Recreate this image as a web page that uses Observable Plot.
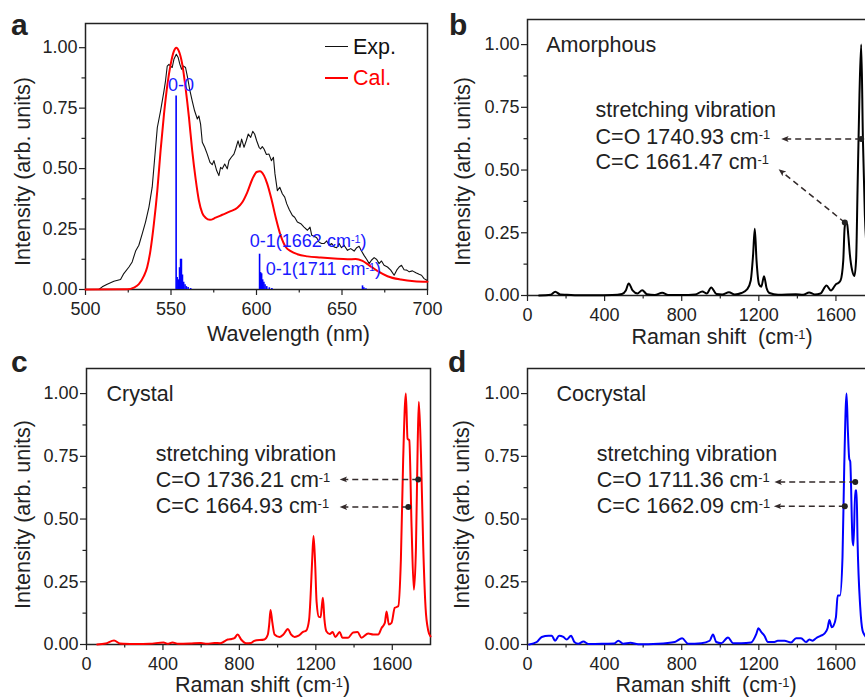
<!DOCTYPE html>
<html><head><meta charset="utf-8">
<script src="https://cdn.jsdelivr.net/npm/d3@7"></script>
<script src="https://cdn.jsdelivr.net/npm/@observablehq/plot@0.6"></script>
<style>
body{margin:0;background:#fff;}
#root{position:relative;width:865px;height:700px;overflow:hidden;background:#fff;font-family:'Liberation Sans',Arial,sans-serif;color:#222;}
.pn{position:absolute;}
.pn svg text{white-space:pre;}
.lbl{position:absolute;font-weight:bold;font-size:30px;line-height:1;}
.leg{position:absolute;font-size:21.5px;line-height:1;white-space:nowrap;}
.legline{position:absolute;height:0;}
</style></head><body><div id="root"></div>
<script>
// ---------- Panel a: PL spectra ----------
const expWl = [507.8,509.8,512.7,516.6,520.5,522.4,525.4,527.3,529.3,531.2,533.2,535.1,537.1,539.0,541.0,542.0,543.9,545.9,546.8,547.8,548.8,549.8,550.7,551.7,553.1,554.2,555.2,556.2,557.2,558.5,559.5,560.9,562.4,563.8,565.4,566.3,567.3,568.3,569.7,571.2,572.8,574.1,575.1,576.7,578.0,579.0,580.0,581.4,582.9,583.9,585.3,586.8,587.8,589.2,590.3,591.3,592.7,594.0,595.2,596.6,597.8,598.9,600.1,601.5,602.4,603.4,604.4,605.8,607.3,608.7,609.9,610.8,612.2,613.6,615.1,616.5,617.7,619.2,621.0,622.3,623.9,625.9,627.8,629.8,631.3,632.3,633.7,635.2,636.6,638.0,639.5,641.1,642.4,644.0,645.4,646.9,648.3,649.7,651.2,653.2,655.1,657.1,658.6,660.0,661.4,662.9,664.5,665.9,667.2,668.8,670.3,671.7,673.1,674.6,676.6,678.5,680.5,682.0,683.4,684.8,686.3,687.9,689.3,691.2,693.2,695.1,696.5,698.0,699.6];
const expI = [0,0.011,0.022,0.034,0.041,0.066,0.093,0.114,0.159,0.183,0.231,0.279,0.341,0.423,0.588,0.670,0.739,0.821,0.863,0.924,0.931,0.924,0.918,0.952,0.973,0.959,0.931,0.911,0.924,0.918,0.883,0.828,0.780,0.739,0.705,0.718,0.684,0.609,0.588,0.560,0.526,0.516,0.533,0.492,0.471,0.505,0.499,0.519,0.499,0.533,0.547,0.560,0.581,0.615,0.588,0.622,0.588,0.615,0.643,0.629,0.654,0.643,0.615,0.588,0.581,0.591,0.581,0.558,0.560,0.533,0.547,0.478,0.409,0.423,0.396,0.382,0.354,0.330,0.306,0.299,0.279,0.272,0.258,0.245,0.258,0.224,0.220,0.214,0.196,0.190,0.190,0.201,0.183,0.190,0.176,0.173,0.190,0.173,0.183,0.162,0.169,0.159,0.173,0.179,0.159,0.141,0.124,0.107,0.121,0.132,0.124,0.107,0.118,0.100,0.093,0.080,0.059,0.080,0.093,0.100,0.082,0.080,0.073,0.077,0.069,0.063,0.059,0.045,0.038];
const calWl = [500,524.4,528.3,531.2,534.1,536.1,538.0,540.0,542.0,543.9,545.9,547.8,549.8,551.7,553.1,554.6,556.6,558.5,560.5,562.4,564.4,566.3,568.3,570.2,572.8,576.1,580.0,584.9,588.8,591.7,594.6,597.6,600.1,602.0,604.4,606.3,608.7,611.2,614.1,617.1,620.0,623.9,629.8,637.6,645.4,653.2,658.0,662.0,665.9,670.7,676.6,684.4,692.2,700];
const calI = [0,0.001,0.008,0.022,0.055,0.093,0.162,0.272,0.409,0.574,0.725,0.842,0.931,0.986,1.0,0.986,0.931,0.835,0.712,0.574,0.457,0.368,0.316,0.297,0.288,0.297,0.309,0.324,0.338,0.361,0.402,0.457,0.486,0.489,0.471,0.437,0.375,0.299,0.224,0.176,0.159,0.146,0.137,0.132,0.128,0.125,0.126,0.118,0.100,0.077,0.055,0.041,0.034,0.032];
const stickWl = [553.0,553.6,554.3,555.0,555.6,556.1,556.7,557.4,558.2,559.0,560.0,561.5,601.8,602.4,603.0,603.6,604.3,605.0,606.0,607.5,609.0,662.0,662.8,664.0];
const stickI = [0.80,0.05,0.04,0.09,0.125,0.125,0.06,0.03,0.02,0.012,0.008,0.004,0.146,0.07,0.065,0.04,0.03,0.02,0.012,0.007,0.004,0.015,0.007,0.003];
const stickLabelText = ["0-0","0-1(1662 cm⁻¹)","0-1(1711 cm⁻¹)"];
const stickLabelWl = [555.8,596.1,605.4];
const stickLabelI = [0.821,0.176,0.059];
const wlTicks = [500,550,600,650,700];
const wlMinor = [525,575,625,675];

// ---------- Panels b-d: Raman ----------
const amoShift = [60,120,144,170,205,260,350,440,490,510,525,545,570,595,620,660,699,730,800,870,907,930,953,980,1010,1045,1075,1110,1140,1158,1170,1179,1188,1201,1213,1227,1240,1255,1300,1392,1430,1461,1490,1520,1551,1574,1600,1612,1624,1638,1645,1650,1658,1664,1672,1684,1696,1705,1712,1722,1731,1740,1750,1760,1775,1800];
const amoI = [0,0.003,0.015,0.004,0.003,0.001,0.001,0.002,0.006,0.02,0.048,0.02,0.008,0.021,0.005,0.002,0.011,0.002,0.002,0.004,0.016,0.008,0.032,0.006,0.004,0.013,0.004,0.01,0.025,0.06,0.16,0.266,0.14,0.045,0.035,0.077,0.03,0.01,0.003,0.005,0.003,0.012,0.004,0.008,0.04,0.02,0.045,0.05,0.06,0.14,0.27,0.29,0.285,0.24,0.165,0.1,0.078,0.15,0.42,0.8,1.0,0.62,0.32,0.18,0.08,0.03];
const cryShift = [56,100,144,175,196,260,330,403,425,450,480,540,599,630,669,700,739,760,774,791,809,835,861,879,931,949,956,963,972,984,1010,1030,1054,1070,1089,1110,1133,1150,1165,1173,1181,1188,1196,1204,1216,1225,1231,1237,1245,1255,1273,1288,1302,1325,1339,1369,1395,1418,1439,1474,1500,1526,1544,1561,1570,1582,1596,1613,1631,1645,1657,1671,1680,1689,1701,1713,1724,1733,1739,1750,1762,1774,1788,1800];
const cryI = [0,0.004,0.016,0.004,0.003,0.002,0.003,0.008,0.003,0.008,0.003,0.004,0.006,0.003,0.006,0.005,0.02,0.022,0.025,0.04,0.02,0.005,0.006,0.015,0.02,0.04,0.08,0.138,0.09,0.04,0.03,0.04,0.062,0.04,0.03,0.035,0.05,0.056,0.1,0.2,0.34,0.432,0.33,0.17,0.11,0.109,0.15,0.186,0.1,0.053,0.042,0.05,0.03,0.05,0.027,0.027,0.048,0.05,0.027,0.044,0.04,0.04,0.066,0.086,0.132,0.08,0.086,0.146,0.152,0.338,0.737,1.0,0.82,0.814,0.468,0.218,0.388,0.8,0.967,0.76,0.388,0.149,0.056,0.032];
const cocShift = [9,48,74,109,126,143,164,186,203,226,243,264,290,316,350,402,450,471,497,534,574,678,764,802,833,902,945,962,979,1005,1040,1066,1109,1160,1186,1198,1212,1229,1247,1281,1298,1333,1367,1393,1419,1445,1462,1479,1497,1522,1540,1557,1566,1578,1588,1600,1609,1621,1634,1643,1655,1662,1669,1674,1686,1691,1700,1707,1712,1726,1738,1750,1770,1800];
const cocI = [0,0.01,0.03,0.035,0.035,0.015,0.035,0.03,0.02,0.035,0.01,0.003,0.012,0.002,0.002,0.003,0.004,0.015,0.003,0.007,0.001,0.003,0.01,0.025,0.003,0.005,0.015,0.04,0.01,0.005,0.028,0.005,0.005,0.008,0.04,0.065,0.05,0.035,0.01,0.01,0.015,0.015,0.008,0.025,0.025,0.01,0.02,0.015,0.025,0.035,0.043,0.066,0.098,0.069,0.076,0.109,0.195,0.195,0.348,0.707,1.0,0.85,0.74,0.73,0.415,0.395,0.614,0.614,0.415,0.149,0.056,0.036,0.02,0.012];
const ramanTicks = [0,400,800,1200,1600];
const ramanMinor = [200,600,1000,1400];
const yTicks = [0,0.25,0.5,0.75,1.0];
const yMinor = [0.125,0.375,0.625,0.875];

const amoLines = ["stretching vibration","C=O 1740.93 cm⁻¹","C=C 1661.47 cm⁻¹"];
const cryLines = ["stretching vibration","C=O 1736.21 cm⁻¹","C=C 1664.93 cm⁻¹"];
const cocLines = ["stretching vibration","C=O 1711.36 cm⁻¹","C=C 1662.09 cm⁻¹"];
const amoLineY = [0.71,0.604,0.504];
const cryLineY = [0.731,0.628,0.524];
const cocLineY = [0.731,0.628,0.524];
const amoArrows = [{x1:1731,y1:0.624,x2:1333,y2:0.624},{x1:1646,y1:0.291,x2:1316,y2:0.495}];
const cryArrows = [{x1:1736,y1:0.658,x2:1342,y2:0.658},{x1:1684,y1:0.548,x2:1342,y2:0.548}];
const cocArrows = [{x1:1700,y1:0.648,x2:1298,y2:0.648},{x1:1646,y1:0.551,x2:1295,y2:0.551}];

const FONT = "'Liberation Sans', Arial, sans-serif";
const INK = "#222";
const yTitle = "Intensity (arb. units)";
const f2 = d3.format(".2f");
const fInt = d3.format("d");

function zip(xs, ys){ return xs.map((x,i)=>({x, y: ys[i]})); }

function commonAxes(xT, xM){
  return [
    Plot.frame({stroke: INK, strokeWidth: 1.5}),
    Plot.axisX({ticks: xT, tickSize: 6, tickPadding: 7, tickFormat: fInt, label: null, strokeWidth: 1.2}),
    Plot.axisX({ticks: xM, tickSize: 3.5, tickFormat: () => "", label: null, strokeWidth: 1.2}),
    Plot.axisY({ticks: yTicks, tickSize: 6, tickPadding: 2, tickFormat: f2, label: null, strokeWidth: 1.2}),
    Plot.axisY({ticks: yMinor, tickSize: 3.5, tickFormat: () => "", label: null, strokeWidth: 1.2})
  ];
}
function titles(xTitle, xdx, xdy, ydx, ydy){
  return [
    Plot.text([yTitle], {frameAnchor: "left", text: d => d, rotate: -90, textAnchor: "middle", lineAnchor: "middle", dx: ydx, dy: ydy, fontSize: 21.5, fill: INK}),
    Plot.text([xTitle], {frameAnchor: "bottom", text: d => d, textAnchor: "middle", lineAnchor: "bottom", dx: xdx, dy: xdy, fontSize: 21.5, fill: INK})
  ];
}
const style = {fontFamily: FONT, fontSize: "18px", background: "transparent", color: INK, overflow: "visible"};

// filled arrowhead marker (falls back to Plot's built-in arrow if unsupported)
function filledArrow(color){
  const m = d3.create("svg:marker")
    .attr("viewBox", "-5 -5 10 10")
    .attr("markerWidth", 5.5).attr("markerHeight", 5.5)
    .attr("orient", "auto")
    .attr("fill", color).attr("stroke", "none");
  m.append("path").attr("d", "M4,0L-5,-3.6L-3,0L-5,3.6Z");
  return m.node();
}
function arrowLinks(data){
  const opts = {x1: "x1", y1: "y1", x2: "x2", y2: "y2", stroke: "#332a2a", strokeWidth: 1.5, strokeDasharray: "6,4"};
  try { return Plot.link(data, {...opts, markerEnd: filledArrow}); }
  catch (e) { return Plot.link(data, {...opts, markerEnd: "arrow"}); }
}

function supify(svg){
  const ns = "http://www.w3.org/2000/svg";
  const nodes = [...svg.querySelectorAll("text, tspan")].filter(n => n.childNodes.length === 1 && n.firstChild.nodeType === 3 && n.textContent.includes("⁻¹"));
  for (const n of nodes){
    const parts = n.textContent.split("⁻¹");
    n.textContent = "";
    parts.forEach((p, i) => {
      if (i > 0){
        const s = document.createElementNS(ns, "tspan");
        s.setAttribute("baseline-shift", "38%");
        s.setAttribute("font-size", "0.6em");
        s.textContent = "-1";
        n.appendChild(s);
      }
      if (p) n.appendChild(document.createTextNode(p));
    });
  }
}

const root = document.getElementById("root");
function place(svg, left, top, w){
  const d = document.createElement("div");
  d.className = "pn";
  d.style.left = left + "px"; d.style.top = top + "px"; d.style.width = w + "px";
  supify(svg);
  d.appendChild(svg);
  root.appendChild(d);
}

// Panel a
const stickData = zip(stickWl, stickI);
const stickLabels = stickLabelText.map((t,i)=>({t, x: stickLabelWl[i], y: stickLabelI[i]}));
const pa = Plot.plot({
  width: 440, height: 345, marginLeft: 85, marginRight: 13, marginTop: 23, marginBottom: 56,
  x: {domain: [500,700]}, y: {domain: [0,1.1]}, style,
  marks: [
    ...commonAxes(wlTicks, wlMinor),
    Plot.line(zip(expWl, expI), {x: "x", y: "y", stroke: "#111", strokeWidth: 1.1}),
    Plot.line(zip(calWl, calI), {x: "x", y: "y", stroke: "#ff0000", strokeWidth: 2, curve: "monotone-x"}),
    Plot.ruleX(stickData, {x: "x", y1: 0, y2: "y", stroke: "#0000ff", strokeWidth: 1.6}),
    Plot.text(stickLabels.slice(0,1), {x: "x", y: "y", text: "t", fill: "#1a1aff", fontSize: 18, textAnchor: "middle", lineAnchor: "bottom"}),
    Plot.text(stickLabels.slice(1), {x: "x", y: "y", text: "t", fill: "#1a1aff", fontSize: 18, textAnchor: "start", lineAnchor: "bottom"}),
    ...titles("Wavelength (nm)", 32, 51, -62, 15)
  ]
});
place(pa, 0, 0, 440);

function raman(o){
  return Plot.plot({
    width: o.w, height: o.h, marginLeft: o.ml, marginRight: o.mr, marginTop: o.mt, marginBottom: o.mb,
    x: {domain: [0,1800]}, y: {domain: [0,1.1]}, style,
    marks: [
      ...commonAxes(ramanTicks, ramanMinor),
      Plot.line(zip(o.xs, o.ys), {x: "x", y: "y", stroke: o.color, strokeWidth: 2, curve: "monotone-x"}),
      Plot.text([o.name], {x: o.nameX, y: 0.97, text: d => d, textAnchor: "start", lineAnchor: "bottom", fontSize: 21.5, fill: INK}),
      Plot.text(o.lines, {x: o.textX, y: (d,i) => o.lineY[i], text: d => d, textAnchor: "start", lineAnchor: "bottom", fontSize: 21.5, fill: INK}),
      arrowLinks(o.arrows),
      Plot.dot(o.arrows, {x: "x1", y: "y1", r: 3, fill: "#222"}),
      ...titles(o.xTitle, o.xdx, o.xdy, o.ydx, o.ydy)
    ]
  });
}

place(raman({w: 450, h: 345, ml: 87, mr: 16, mt: 19, mb: 50, xs: amoShift, ys: amoI, color: "#000", name: "Amorphous", nameX: 97,
  lines: amoLines, lineY: amoLineY, textX: 353, arrows: amoArrows, xTitle: "Raman shift  (cm⁻¹)", xdx: 21, xdy: 48, ydx: -64, ydy: 14}), 440, 0, 450);
place(raman({w: 440, h: 355, ml: 86, mr: 10, mt: 23, mb: 56, xs: cryShift, ys: cryI, color: "#ff0000", name: "Crystal", nameX: 105,
  lines: cryLines, lineY: cryLineY, textX: 362, arrows: cryArrows, xTitle: "Raman shift (cm⁻¹)", xdx: 4, xdy: 47, ydx: -63, ydy: 8}), 0, 345, 440);
place(raman({w: 450, h: 355, ml: 87, mr: 16, mt: 23, mb: 56, xs: cocShift, ys: cocI, color: "#0000ff", name: "Cocrystal", nameX: 150,
  lines: cocLines, lineY: cocLineY, textX: 359, arrows: cocArrows, xTitle: "Raman shift  (cm⁻¹)", xdx: 5, xdy: 47, ydx: -65, ydy: 8}), 440, 345, 450);

// Legend (panel a) and panel letters
function addDiv(cls, css, text){ const d = document.createElement("div"); d.className = cls; Object.assign(d.style, css); if (text) d.textContent = text; root.appendChild(d); }
addDiv("legline", {left: "325px", top: "46px", width: "23px", borderTop: "1.3px solid #111"});
addDiv("leg", {left: "353px", top: "37px", color: "#111"}, "Exp.");
addDiv("legline", {left: "325px", top: "77px", width: "23px", borderTop: "2px solid #ff0000"});
addDiv("leg", {left: "353px", top: "68px", color: "#ff0000"}, "Cal.");
addDiv("lbl", {left: "11px", top: "10px"}, "a");
addDiv("lbl", {left: "449px", top: "10px"}, "b");
addDiv("lbl", {left: "11px", top: "347px"}, "c");
addDiv("lbl", {left: "448px", top: "347px"}, "d");
</script></body></html>
